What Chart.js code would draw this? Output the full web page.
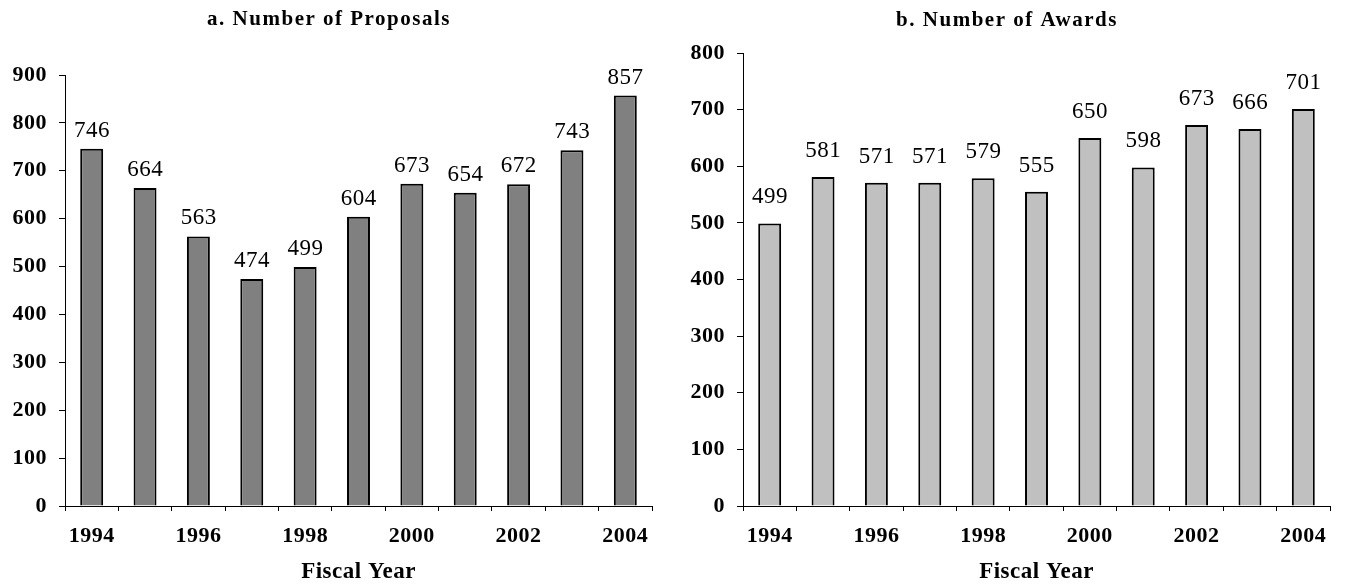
<!DOCTYPE html>
<html>
<head>
<meta charset="utf-8">
<title>Number of Proposals and Awards</title>
<script src="https://cdn.jsdelivr.net/npm/chart.js@4"></script>
<style>
  body { margin: 0; background: #fff; }
  canvas { position: absolute; top: 0; }
  #proposals { left: 0; }
  #awards { left: 672px; }
</style>
</head>
<body>
<canvas id="proposals" width="672" height="587"></canvas>
<canvas id="awards" width="673" height="587"></canvas>
<script>
// fiscal years and counts
const years = ['1994', '1995', '1996', '1997', '1998', '1999', '2000', '2001', '2002', '2003', '2004'];
const shownYears = ['1994', '1996', '1998', '2000', '2002', '2004'];
const proposals = [746, 664, 563, 474, 499, 604, 673, 654, 672, 743, 857];
const awards = [499, 581, 571, 571, 579, 555, 650, 598, 673, 666, 701];
const proposalsMax = 900;
const awardsMax = 800;
const tickStep = 100;

const SERIF = '"Liberation Serif", "Times New Roman", serif';
Chart.defaults.font.family = SERIF;
Chart.defaults.color = '#000';

// Chart.js has no letter spacing option, the scanned chart is a bit spaced out
const spacing = {
    id: 'spacing',
    beforeDraw(chart) {
        chart.ctx.letterSpacing = '0.5px';
    }
};

// panel heading
const heading = {
    id: 'heading',
    afterDraw(chart, args, opts) {
        const ctx = chart.ctx;
        ctx.save();
        ctx.font = 'bold 21px ' + SERIF;
        ctx.letterSpacing = '1.5px';
        ctx.fillStyle = '#000';
        ctx.textAlign = 'center';
        ctx.textBaseline = 'alphabetic';
        ctx.fillText(opts.text, opts.x, opts.y);
        ctx.restore();
    }
};

// value above each bar
const valueLabels = {
    id: 'valueLabels',
    afterDatasetsDraw(chart, args, opts) {
        const ctx = chart.ctx;
        const values = chart.data.datasets[0].data;
        ctx.save();
        ctx.font = '23px ' + SERIF;
        ctx.letterSpacing = '0.5px';
        ctx.fillStyle = '#000';
        ctx.textAlign = 'center';
        ctx.textBaseline = 'alphabetic';
        chart.getDatasetMeta(0).data.forEach((bar, i) => {
            ctx.fillText(String(values[i]), bar.x + 0.25, bar.y - opts.gap);
        });
        ctx.restore();
    }
};

function panel(el, cfg) {
    return new Chart(el, {
        type: 'bar',
        data: {
            labels: years,
            datasets: [
                {
                    data: cfg.values,
                    backgroundColor: cfg.fill,
                    borderColor: '#000',
                    borderWidth: 2,
                    barPercentage: 0.43,
                    categoryPercentage: 1
                }
            ]
        },
        plugins: [spacing, heading, valueLabels],
        options: {
            responsive: false,
            animation: false,
            devicePixelRatio: 1,
            events: [],
            layout: {
                padding: { left: 0, right: cfg.padRight, top: cfg.padTop, bottom: 0 }
            },
            plugins: {
                legend: { display: false },
                tooltip: { enabled: false },
                heading: { text: cfg.title, x: cfg.titleX, y: cfg.titleY },
                valueLabels: { gap: cfg.gap }
            },
            scales: {
                x: {
                    afterFit(scale) { scale.height = 81; },
                    grid: { display: true, offset: true, drawOnChartArea: false, tickLength: 5, color: '#000' },
                    border: { display: true, color: '#000', width: 1 },
                    ticks: {
                        autoSkip: false,
                        maxRotation: 0,
                        padding: 12,
                        font: { size: 22, weight: 'bold' },
                        callback: (v, i) => shownYears.includes(years[i]) ? years[i] : ''
                    },
                    title: {
                        display: true,
                        text: 'Fiscal Year',
                        font: { size: 23, weight: 'bold' },
                        padding: { top: 0, bottom: 1 }
                    }
                },
                y: {
                    min: 0,
                    max: cfg.max,
                    afterFit(scale) { scale.width = cfg.axisX; },
                    grid: { display: true, drawOnChartArea: false, tickLength: 6, color: '#000' },
                    border: { display: true, color: '#000', width: 1 },
                    ticks: {
                        stepSize: tickStep,
                        padding: 12,
                        font: { size: 22, weight: 'bold' }
                    }
                }
            }
        }
    });
}

panel(document.getElementById('proposals'), {
    values: proposals,
    max: proposalsMax,
    fill: '#808080',
    title: 'a. Number of Proposals',
    titleX: 329, titleY: 25,
    axisX: 65, padTop: 75, padRight: 20,
    gap: 12
});

panel(document.getElementById('awards'), {
    values: awards,
    max: awardsMax,
    fill: '#c0c0c0',
    title: 'b. Number of Awards',
    titleX: 335, titleY: 26,
    axisX: 71, padTop: 53, padRight: 15,
    gap: 20
});
</script>
</body>
</html>
